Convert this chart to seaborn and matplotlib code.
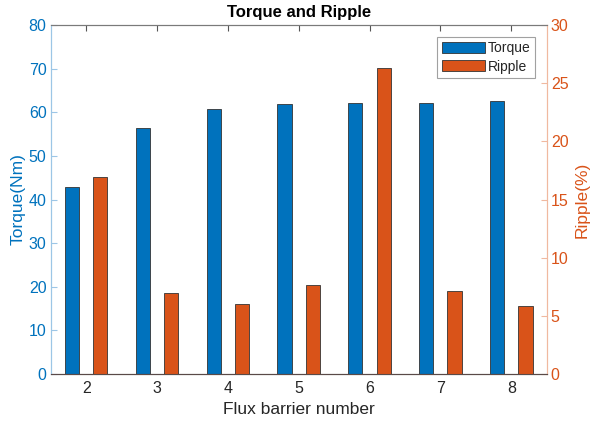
import numpy as np
import pandas as pd
import matplotlib
matplotlib.use("Agg")
import matplotlib.pyplot as plt
import matplotlib.patches as mpatches
import seaborn as sns

barriers = [2, 3, 4, 5, 6, 7, 8]
torque = [42.8, 56.3, 60.7, 61.9, 62.2, 62.2, 62.5]
ripple = [16.9, 7.0, 6.0, 7.65, 26.3, 7.15, 5.85]
series = ["Torque", "Ripple"]

BLUE = "#0072BD"
ORANGE = "#D95319"
DARK = "#262626"

sns.set_style("white")
plt.rcParams["font.family"] = ["Liberation Sans", "DejaVu Sans"]

df_t = pd.DataFrame({"n": barriers, "v": torque, "s": "Torque"})
df_r = pd.DataFrame({"n": barriers, "v": ripple, "s": "Ripple"})
pal = {"Torque": BLUE, "Ripple": ORANGE}

fig = plt.figure(figsize=(5.93, 4.26), dpi=100)
ax1 = fig.add_axes([0.0855, 0.122, 0.8364, 0.8193])
ax2 = ax1.twinx()

sns.barplot(data=df_t, x="n", y="v", hue="s", hue_order=series, palette=pal,
            native_scale=True, dodge=True, width=0.8, gap=0.5, legend=False,
            edgecolor="#333333", linewidth=0.6, saturation=1, ax=ax1)
sns.barplot(data=df_r, x="n", y="v", hue="s", hue_order=series, palette=pal,
            native_scale=True, dodge=True, width=0.8, gap=0.5, legend=False,
            edgecolor="#333333", linewidth=0.6, saturation=1, ax=ax2)

for ax in (ax1, ax2):
    ax.set_xlim(1.5, 8.5)
    ax.set_xticks(barriers)
ax1.set_ylim(0, 80)
ax1.set_yticks(np.arange(0, 81, 10))
ax2.set_ylim(0, 30)
ax2.set_yticks(np.arange(0, 31, 5))

fs = 11.5
ax1.set_xticklabels([str(b) for b in barriers], fontsize=fs, color=DARK)
ax1.set_yticklabels([str(int(v)) for v in np.arange(0, 81, 10)], fontsize=fs, color=BLUE)
ax2.set_yticklabels([str(int(v)) for v in np.arange(0, 31, 5)], fontsize=fs, color=ORANGE)

ax1.set_xlabel("Flux barrier number", fontsize=12.5, color=DARK, labelpad=4)
ax1.set_ylabel("Torque(Nm)", fontsize=12.5, color=BLUE, labelpad=2)
ax2.set_ylabel("Ripple(%)", fontsize=12.5, color=ORANGE, labelpad=4)
ax1.set_title("Torque and Ripple", fontsize=12, fontweight="bold", color="black", pad=6)

for ax in (ax1, ax2):
    for sp in ax.spines.values():
        sp.set_linewidth(0.8)
    ax.spines["top"].set_color("#7a7a7a")
    ax.spines["bottom"].set_color("#5a4a48")
    ax.spines["left"].set_color("#9cc6e6")
    ax.spines["right"].set_color("#f0b9a0")
    ax.grid(False)

ax1.tick_params(axis="x", direction="in", length=4, width=0.8, color="#555555",
                top=True, pad=5)
ax1.tick_params(axis="y", direction="in", length=4, width=0.8, color="#9cc6e6", pad=3)
ax2.tick_params(axis="y", direction="in", length=4, width=0.8, color="#f0b9a0", pad=3)
ax2.tick_params(axis="x", top=False, bottom=False)

handles = [mpatches.Patch(facecolor=pal[s], edgecolor="#333333", linewidth=0.6, label=s)
           for s in series]
leg = ax2.legend(handles=handles, loc="upper right", bbox_to_anchor=(0.977, 0.967),
                 fontsize=10, frameon=True, fancybox=False, handlelength=3.1,
                 handleheight=0.85, handletextpad=0.2, borderpad=0.35,
                 labelspacing=0.3, borderaxespad=0.0)
leg.get_frame().set_edgecolor("#8a8a8a")
leg.get_frame().set_linewidth(0.8)

fig.savefig("out.png", dpi=100)
